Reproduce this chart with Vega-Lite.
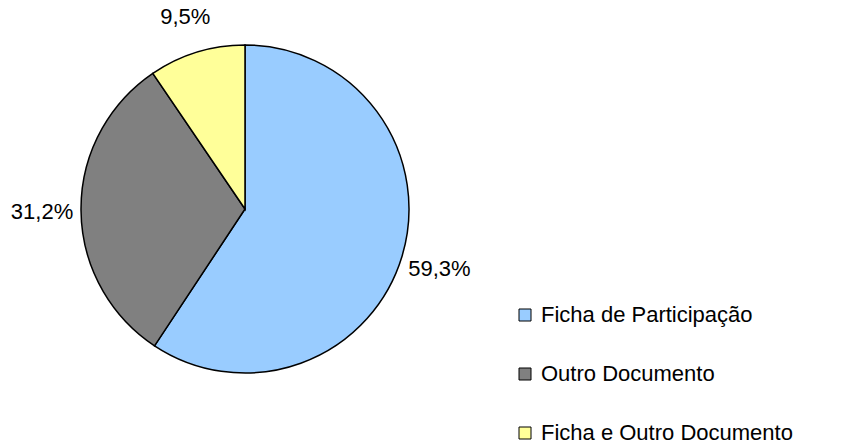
{
  "$schema": "https://vega.github.io/schema/vega-lite/v6.json",
  "autosize": {"type": "none"},
  "width": 490,
  "height": 418,
  "padding": {"left": 0, "top": 0, "right": 351, "bottom": 26},
  "background": "white",
  "config": {"view": {"stroke": null}, "font": "Liberation Sans"},
  "data": {
    "values": [
      {"category": "Ficha de Participação", "value": 59.3, "label": "59,3%", "ord": 1},
      {"category": "Outro Documento", "value": 31.2, "label": "31,2%", "ord": 2},
      {"category": "Ficha e Outro Documento", "value": 9.5, "label": "9,5%", "ord": 3}
    ]
  },
  "encoding": {
    "theta": {"field": "value", "type": "quantitative", "stack": true},
    "order": {"field": "ord", "type": "quantitative"}
  },
  "layer": [
    {
      "mark": {"type": "arc", "outerRadius": 164, "stroke": "black", "strokeWidth": 1.5},
      "encoding": {
        "color": {
          "field": "category",
          "type": "nominal",
          "sort": ["Ficha de Participação", "Outro Documento", "Ficha e Outro Documento"],
          "scale": {
            "domain": ["Ficha de Participação", "Outro Documento", "Ficha e Outro Documento"],
            "range": ["#99CCFF", "#808080", "#FFFF99"]
          },
          "legend": {
            "title": null,
            "orient": "none",
            "legendX": 514,
            "legendY": 304,
            "symbolType": "square",
            "symbolSize": 144,
            "symbolStrokeColor": "black",
            "symbolStrokeWidth": 1,
            "labelFontSize": 22,
            "labelFont": "Liberation Sans",
            "labelColor": "black",
            "labelOffset": 5,
            "rowPadding": 37,
            "labelLimit": 400
          }
        }
      }
    },
    {
      "mark": {"type": "text", "radius": 203, "dy": 2, "fontSize": 22, "font": "Liberation Sans", "color": "black"},
      "encoding": {
        "text": {"field": "label", "type": "nominal"}
      }
    }
  ]
}
